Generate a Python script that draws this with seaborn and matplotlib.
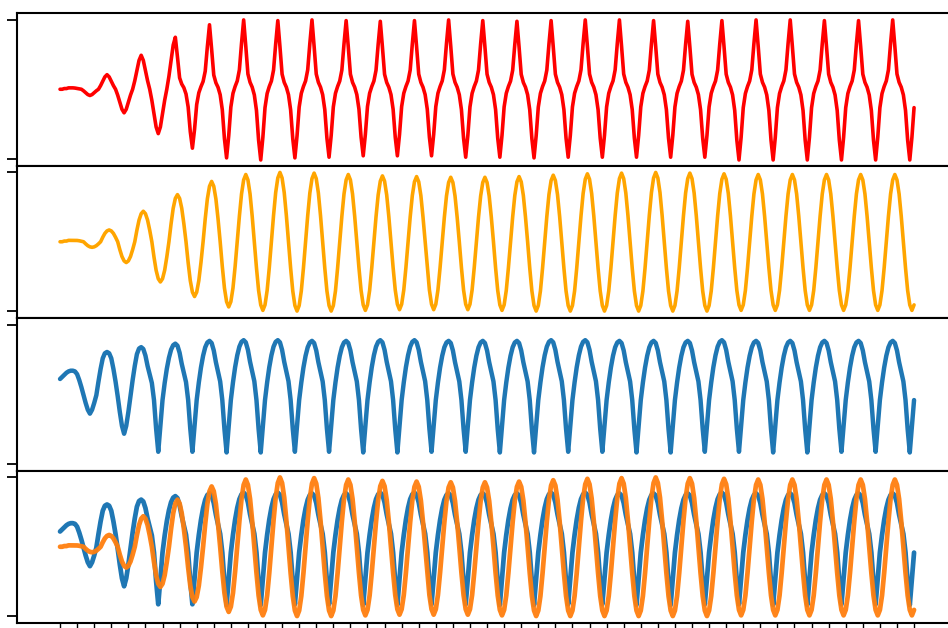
import numpy as np
import pandas as pd
import matplotlib
matplotlib.use("Agg")
import matplotlib.pyplot as plt
import seaborn as sns

# time axis, 16 samples per cycle (one cycle = 2 time units)
t = np.linspace(0, 50, 401)

# one cycle of each waveform, normalised to peak = 1, trough = -1
# (sample 0 is the peak, sample 8 the trough)
red_shape = [1.00, 0.62, 0.22, 0.10, 0.03, -0.08, -0.30, -0.72,
             -1.00, -0.68, -0.26, -0.06, 0.04, 0.12, 0.28, 0.66]
orange_shape = [1.00, 0.92, 0.71, 0.38, 0.00, -0.38, -0.71, -0.92,
                -1.00, -0.92, -0.71, -0.38, 0.00, 0.38, 0.71, 0.92]
blue_shape = [1.00, 0.96, 0.82, 0.60, 0.42, 0.24, -0.10, -0.60,
              -1.00, -0.55, -0.10, 0.22, 0.50, 0.72, 0.88, 0.97]
# the first few cycles are rounder than the steady state
red_early = [1.00, 0.85, 0.55, 0.25, 0.00, -0.25, -0.55, -0.85,
             -1.00, -0.85, -0.55, -0.25, 0.00, 0.25, 0.55, 0.85]
blue_early = [1.00, 0.97, 0.85, 0.60, 0.30, -0.05, -0.45, -0.80,
              -1.00, -0.80, -0.45, -0.05, 0.30, 0.60, 0.85, 0.97]

# peak / trough heights per cycle
red_peaks = [0.02, 0.21, 0.49, 0.75, 0.93, 1.00, 0.99, 1.00, 0.99, 0.98, 0.99, 1.00, 0.99,
             0.98, 0.99, 1.00, 1.00, 0.99, 0.98, 0.99, 1.00, 1.00, 0.99, 0.99, 1.00]
red_troughs = [-0.09, -0.34, -0.64, -0.85, -0.99, -1.02, -0.99, -0.98, -0.96, -0.96, -0.96, -0.98, -0.98,
               -0.99, -0.98, -0.98, -0.98, -0.98, -0.98, -1.02, -1.02, -1.02, -1.02, -1.02, -1.02]
red_lead = [0.00, 0.00, 0.01, 0.01, 0.02, 0.02]

orange_peaks = [0.02, 0.17, 0.44, 0.68, 0.87, 0.97, 1.00, 0.99, 0.97, 0.95, 0.94, 0.93, 0.93,
                0.94, 0.96, 0.98, 0.99, 1.00, 0.99, 0.98, 0.97, 0.97, 0.97, 0.97, 0.97]
orange_troughs = [-0.08, -0.30, -0.58, -0.79, -0.94, -0.99, -1.00, -1.00, -0.99, -0.98, -0.98, -0.98, -0.99,
                  -1.00, -1.00, -1.00, -1.00, -1.00, -1.00, -0.99, -0.99, -0.99, -0.99, -0.99, -0.99]
orange_lead = [0.00, 0.00, 0.01, 0.01, 0.02, 0.02, 0.02]

blue_peaks = [0.34, 0.61, 0.68, 0.73, 0.77, 0.78, 0.78, 0.77, 0.77, 0.78, 0.78, 0.77, 0.77,
              0.77, 0.78, 0.78, 0.77, 0.77, 0.77, 0.78, 0.77, 0.77, 0.77, 0.77, 0.77]
blue_troughs = [-0.28, -0.57, -0.83, -0.83, -0.84, -0.84, -0.83, -0.83, -0.84, -0.84, -0.83, -0.83, -0.84,
                -0.84, -0.83, -0.83, -0.84, -0.84, -0.83, -0.83, -0.84, -0.84, -0.83, -0.83, -0.84]
blue_lead = [0.22, 0.25, 0.28, 0.31, 0.33, 0.34]


def build(shape, peaks, troughs, lead, early=None, n_early=0):
    # stitch the read cycle shapes together with the read peak/trough heights
    off = len(lead)
    vals = []
    for i in range(len(t)):
        if i < off:
            vals.append(lead[i])
            continue
        c, p = divmod(i - off, 16)
        s = early[p] if c < n_early else shape[p]
        if s >= 0:
            k = min(c + (1 if p > 8 else 0), len(peaks) - 1)
            vals.append(s * peaks[k])
        else:
            vals.append(-s * troughs[min(c, len(troughs) - 1)])
    return vals


df = pd.DataFrame({
    "t": t,
    "red": build(red_shape, red_peaks, red_troughs, red_lead, red_early, 3),
    "orange": build(orange_shape, orange_peaks, orange_troughs, orange_lead),
    "blue": build(blue_shape, blue_peaks, blue_troughs, blue_lead, blue_early, 2),
})

sns.set_style("white")
fig, axes = plt.subplots(4, 1, sharex=True, figsize=(9.48, 6.28), dpi=100)
fig.subplots_adjust(left=17 / 948, right=960 / 948, top=1 - 13 / 628, bottom=1 - 623 / 628, hspace=0)

sns.lineplot(data=df, x="t", y="red", ax=axes[0], color="#ff0000", lw=2.6)
sns.lineplot(data=df, x="t", y="orange", ax=axes[1], color="#ffa500", lw=2.6)
sns.lineplot(data=df, x="t", y="blue", ax=axes[2], color="#1f77b4", lw=3.2)
sns.lineplot(data=df, x="t", y="blue", ax=axes[3], color="#1f77b4", lw=3.4)
sns.lineplot(data=df, x="t", y="orange", ax=axes[3], color="#ff7f0e", lw=3.4, alpha=0.95)

for i, ax in enumerate(axes):
    ax.set_xlim(-2.52, 52.69)
    ax.set_ylim(-1.1, 1.1)
    ax.set_yticks([-1, 1])
    ax.set_xlabel("")
    ax.set_ylabel("")
    for s in ax.spines.values():
        s.set_color("black")
        s.set_linewidth(1.5)
    ax.tick_params(axis="y", left=True, length=7, width=1.3, color="black", labelleft=False)
    if i < 3:
        ax.tick_params(axis="x", bottom=False, labelbottom=False)
    else:
        ax.set_xticks(np.arange(0, 51))
        ax.tick_params(axis="x", bottom=True, length=4, width=1.0, color="black", labelbottom=False)

fig.savefig("out.png", dpi=100)
